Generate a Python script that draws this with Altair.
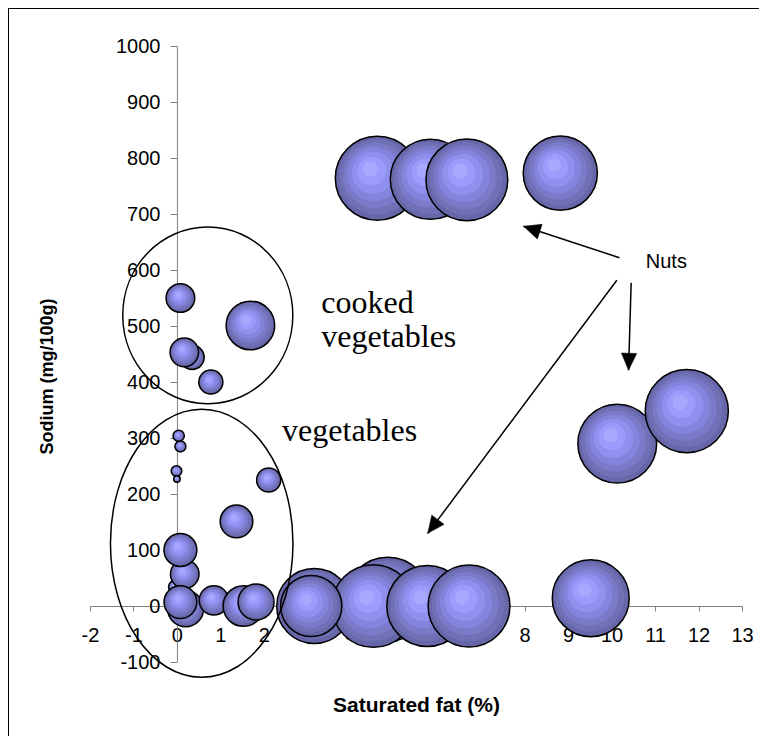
import math
import altair as alt
import pandas as pd

# ---------------- data ----------------
sat_fat = [4.61, 5.83, 6.67, 8.82,
           10.13, 11.73,
           3.16, 4.85, 4.52, 3.09, 5.76, 6.72, 9.52,
           0.20, -0.04, 0.18, 0.08, 0.08, 0.85, 1.53, 1.82,
           0.04, 0.08, -0.01, 0.00, 2.11, 1.37,
           0.08, 0.35, 0.17, 0.78, 1.69]
sodium = [764, 762, 761, 773,
          290, 348,
          0, 12, 0, 0, 0, 0, 14,
          -5, 34, 57, 100, 7, 10, 0, 7,
          304, 285, 241, 227, 225, 151,
          550, 444, 453, 400, 501]
bubble_value = [100, 91, 95, 78,
                88, 98,
                80, 100, 97, 53, 93, 95, 84,
                18.4, 2.5, 11.6, 15.4, 15.2, 12.1, 23.4, 18.4,
                1.8, 1.7, 1.6, 0.6, 8.2, 15.1,
                11.6, 8.2, 11.6, 8.2, 33.5]

x_ticks = list(range(-2, 14))
y_ticks = list(range(-100, 1001, 100))

# annotation ellipses (centre in data units)
ell_x = [0.71, 0.57]
ell_y = [519, 112]

# arrows: tail -> tip (data units)
arrow_x0 = [10.18, 10.45, 10.12]
arrow_y0 = [622, 577, 581.6]
arrow_x1 = [7.975, 10.39, 5.77]
arrow_y1 = [678, 421, 129.7]

label_text = ["cooked", "vegetables", "vegetables"]
label_x = [3.32, 3.32, 2.42]
label_y = [524, 462, 294]

nuts_text = ["Nuts"]
nuts_x = [11.26]
nuts_y = [614]

# ---------------- layout ----------------
W, H = 652, 616
XMIN, XMAX = -2, 13
YMIN, YMAX = -100, 1000

xscale = alt.Scale(domain=[XMIN, XMAX], nice=False, zero=False)
yscale = alt.Scale(domain=[YMIN, YMAX], nice=False, zero=False)

xaxis = alt.Axis(values=x_ticks, title="Saturated fat (%)", grid=False,
                 offset=-H * (0 - YMIN) / (YMAX - YMIN),
                 tickSize=5, tickColor="#808080", domainColor="#808080",
                 labelExpr="'' + datum.value",
                 labelFont="Liberation Sans", labelFontSize=20, labelColor="black",
                 labelPadding=14, labelFlush=False, labelOverlap=False,
                 titleFont="Liberation Sans", titleFontSize=21, titleFontWeight="bold",
                 titleColor="black", titleY=99, titleBaseline="middle")
yaxis = alt.Axis(values=y_ticks, title="Sodium (mg/100g)", grid=False,
                 offset=-W * (0 - XMIN) / (XMAX - XMIN),
                 tickSize=7, tickColor="#808080", domainColor="#808080",
                 labelExpr="'' + datum.value",
                 labelFont="Liberation Sans", labelFontSize=20, labelColor="black",
                 labelPadding=10, labelFlush=False, labelOverlap=False,
                 titleFont="Liberation Sans", titleFontSize=18, titleFontWeight="bold",
                 titleColor="black", titleX=-129, titleY=330, titleBaseline="middle",
                 titleAlign="center")


def X(f):
    return alt.X(f, type="quantitative", scale=xscale, axis=xaxis)


def Y(f):
    return alt.Y(f, type="quantitative", scale=yscale, axis=yaxis)


bubbles = pd.DataFrame({"fat": sat_fat, "sodium": sodium, "val": bubble_value})
bubbles["order"] = range(len(bubbles))

band_colors = ["#a8a8ff", "#9c9cfc", "#9090ee", "#8484dc", "#7a7ac8", "#7070b6", "#6666a8"]
band_edges = [0.0, 0.18, 0.34, 0.50, 0.64, 0.77, 0.89, 1.0]
stops = []
for i, c in enumerate(band_colors):
    stops.append({"offset": band_edges[i], "color": c})
    stops.append({"offset": band_edges[i + 1], "color": c})

grad = {
    "gradient": "radial",
    "x1": 0.40, "y1": 0.37, "r1": 0.0,
    "x2": 0.5, "y2": 0.5, "r2": 0.5,
    "stops": stops,
}

bubble_layer = alt.Chart(bubbles).mark_point(
    shape="circle", filled=True, fill=grad, stroke="black", strokeWidth=1.5,
    opacity=1, fillOpacity=1, strokeOpacity=1
).encode(
    x=X("fat"), y=Y("sodium"),
    size=alt.Size("val:Q", scale=alt.Scale(type="linear", domain=[0, 100], range=[0, 7056]),
                  legend=None),
    order=alt.Order("order:Q"),
)

# ellipses
ell_df = pd.DataFrame({"x": ell_x, "y": ell_y})
ell1 = alt.Chart(ell_df.iloc[[0]]).mark_point(
    shape="M -0.963 0 A 0.963 1 0 1 1 0.963 0 A 0.963 1 0 1 1 -0.963 0 Z",
    size=(2 * 88.3) ** 2, filled=False, stroke="black", strokeWidth=1.5, opacity=1
).encode(x=X("x"), y=Y("y"))
ell2 = alt.Chart(ell_df.iloc[[1]]).mark_point(
    shape="M -0.681 0 A 0.681 1 0 1 1 0.681 0 A 0.681 1 0 1 1 -0.681 0 Z",
    size=(2 * 134) ** 2, filled=False, stroke="black", strokeWidth=1.5, opacity=1
).encode(x=X("x"), y=Y("y"))

# arrows
arr = pd.DataFrame({"x0": arrow_x0, "y0": arrow_y0, "x1": arrow_x1, "y1": arrow_y1})
px_x = W / (XMAX - XMIN)
px_y = H / (YMAX - YMIN)
arr["ang"] = [
    (math.degrees(math.atan2((b - a) * px_x, (d - c) * px_y)) + 360) % 360
    for a, b, c, d in zip(arr.x0, arr.x1, arr.y0, arr.y1)
]
arrow_lines = alt.Chart(arr).mark_rule(color="black", strokeWidth=1.5).encode(
    x=X("x0"), y=Y("y0"), x2="x1", y2="y1")
arrow_heads = alt.Chart(arr).mark_point(
    shape="M 0 0 L -0.45 1 L 0.45 1 Z", size=1156, filled=True, fill="black",
    stroke="black", strokeWidth=0.5, opacity=1
).encode(x=X("x1"), y=Y("y1"), angle=alt.Angle("ang:Q", scale=None))

# text labels
lab = pd.DataFrame({"t": label_text, "x": label_x, "y": label_y})
labels = alt.Chart(lab).mark_text(
    font="Liberation Serif", fontSize=32, align="left", baseline="alphabetic", color="black"
).encode(x=X("x"), y=Y("y"), text="t:N")

nuts = pd.DataFrame({"t": nuts_text, "x": nuts_x, "y": nuts_y})
nuts_label = alt.Chart(nuts).mark_text(
    font="Liberation Sans", fontSize=20, align="center", baseline="middle", color="black"
).encode(x=X("x"), y=Y("y"), text="t:N")

# outer frame (left and top edges; the others lie outside the picture)
frame_left = alt.Chart(alt.Data(values=[{}])).mark_rule(color="black", strokeWidth=1).encode(
    x=alt.value(-81.5), y=alt.value(-38), y2=alt.value(H + 120))
frame_top = alt.Chart(alt.Data(values=[{}])).mark_rule(color="black", strokeWidth=1).encode(
    y=alt.value(-37.5), x=alt.value(-82), x2=alt.value(W + 100))

chart = alt.layer(
    frame_left, frame_top, bubble_layer, ell1, ell2, arrow_lines, arrow_heads, labels, nuts_label
).properties(
    width=W, height=H,
    autosize=alt.AutoSizeParams(type="none"),
    padding={"left": 82, "top": 38, "right": 17, "bottom": 74},
    background="white",
).configure_view(stroke=None)

chart.save("out.html", embed_options={"renderer": "svg", "actions": False})
